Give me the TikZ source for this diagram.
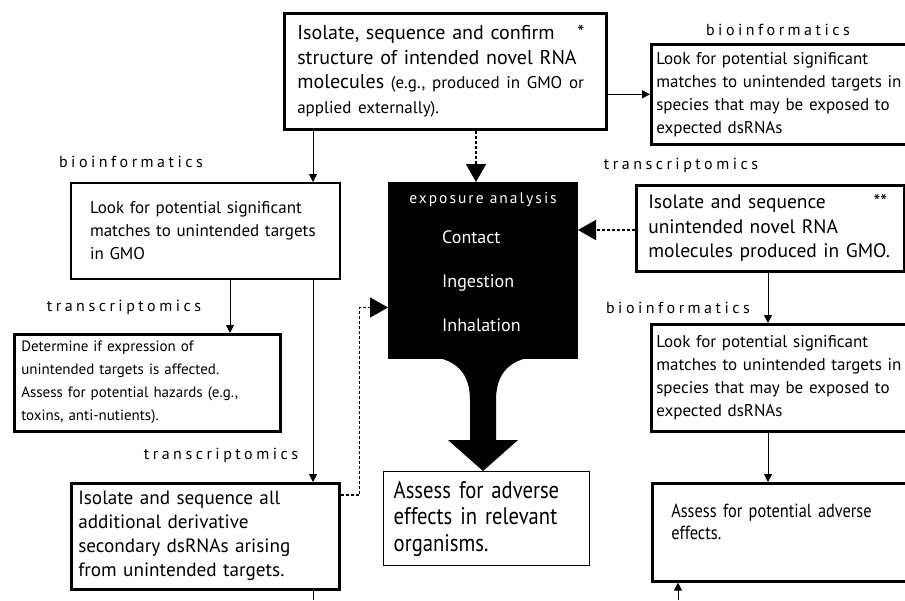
\documentclass[tikz,border=0pt]{standalone}
\usepackage{fontspec}
\setmainfont{PT Sans}
\newfontfamily\spacedfont[LetterSpace=22]{PT Sans}
\newfontfamily\widefont[LetterSpace=13]{PT Sans}
\newfontfamily\condfont[FakeStretch=0.86]{PT Sans}
\usetikzlibrary{arrows.meta,calc,positioning}

\tikzset{
  box/.style={draw, line width=2.6pt, anchor=north west, align=left,
    inner ysep=0pt, font=\fontsize{17}{23}\selectfont},
  thinbox/.style={box, line width=1.4pt},
  tag/.style={font=\spacedfont\fontsize{16}{18}\selectfont},
  conn/.style={line width=1pt, -{Triangle[width=8pt,length=8pt]}},
  dsh/.style={line width=1.6pt, dash pattern=on 3pt off 2pt,
    -{Triangle[width=20pt,length=18pt]}},
}

\begin{document}
\begin{tikzpicture}[x=1pt, y=-1pt]
  \useasboundingbox (0,0) rectangle (905,600);
  \clip (0,0) rectangle (905,600);

  % top row
  \node[box, minimum width=322pt, minimum height=116pt, text width=296pt,
    inner xsep=13pt, font=\fontsize{20}{24.5}\selectfont] (top) at (283,12)
    {Isolate, sequence and confirm\hfill*\rule{9pt}{0pt}\\
     structure of intended novel RNA\\
     molecules {\fontsize{17}{24.5}\selectfont (e.g., produced in GMO or}\\
     {\fontsize{17}{24.5}\selectfont applied externally).}};
  \node[tag] (bioR) at (778,30) {bioinformatics};
  \node[box, minimum width=262pt, minimum height=100pt, text width=252pt,
    inner xsep=5pt] (topR) at (650,43)
    {Look for potential significant\\
     matches to unintended targets in\\
     species that may be exposed to\\
     expected dsRNAs};

  % left column
  \node[tag] (bioL) at (131,162) {bioinformatics};
  \node[box, minimum width=269pt, minimum height=96pt, text width=245pt,
    inner xsep=12pt, line width=2pt] (lookL) at (70,182)
    {\hspace*{7pt}Look for potential significant\\
     \hspace*{7pt}matches to unintended targets\\
     \hspace*{7pt}in GMO};
  \node[tag] (transL) at (124,307) {transcriptomics};
  \node[box, minimum width=266pt, minimum height=97pt, text width=252pt,
    inner xsep=7pt, font=\fontsize{15}{23}\selectfont] (detL) at (13,333)
    {Determine if expression of\\
     unintended targets is affected.\\
     Assess for potential hazards (e.g.,\\
     toxins, anti-nutients).};
  \node[tag] (transL2) at (221,455) {transcriptomics};
  \node[box, minimum width=268pt, minimum height=106pt, text width=254pt,
    inner xsep=7pt, font=\fontsize{19.2}{24}\selectfont] (seqL) at (70,482)
    {Isolate and sequence all\\
     additional derivative\\
     secondary dsRNAs arising\\
     from unintended targets.};

  % centre
  \node[draw, fill, line width=1pt, anchor=north west, minimum width=189pt,
    minimum height=176pt, inner sep=0pt] (expo) at (388,182) {};
  \node[white, font=\widefont\fontsize{15.5}{17}\selectfont] (expoT)
    at ([yshift=-18pt]expo.north) {exposure analysis};
  \node[white, anchor=west, align=left, inner sep=0pt,
    font=\fontsize{18}{44}\selectfont] (expoL) at ([xshift=54pt,yshift=-11pt]expo.west)
    {Contact\\Ingestion\\Inhalation};
  \fill (420,356) .. controls (458,356) and (470,375) .. (470,400)
    -- (470,440) -- (448,440) -- (483,471) -- (518,440) -- (496,440)
    -- (496,400) .. controls (496,375) and (508,356) .. (546,356) -- cycle;
  \node[thinbox, minimum width=205pt, minimum height=94pt, text width=186pt,
    inner xsep=10pt, font=\condfont\fontsize{24}{26.5}\selectfont] (adv) at (383,471)
    {Assess for adverse\\
     effects in relevant\\
     organisms.};

  % right column
  \node[tag] (transR) at (681,165) {transcriptomics};
  \node[box, minimum width=268pt, minimum height=86pt, text width=254pt,
    inner xsep=7pt, font=\fontsize{19.5}{24.5}\selectfont] (midR) at (635,184)
    {\hspace*{5pt}Isolate and sequence\hfill**\rule{10pt}{0pt}\\
     \hspace*{5pt}unintended novel RNA\\
     \hspace*{5pt}molecules produced in GMO.};
  \node[tag] (bioR2) at (678,308) {bioinformatics};
  \node[box, minimum width=262pt, minimum height=107pt, text width=252pt,
    inner xsep=5pt] (lowR) at (650,323)
    {Look for potential significant\\
     matches to unintended targets in\\
     species that may be exposed to\\
     expected dsRNAs};
  \node[box, minimum width=262pt, minimum height=98pt, text width=224pt,
    inner xsep=19pt, font=\condfont\fontsize{19}{22}\selectfont] (botR) at (651,482)
    {Assess for potential adverse\\
     effects.\\ ~};

  % connectors
  \coordinate (colL) at (313,0);
  \coordinate (colD) at (230,0);
  \coordinate (colC) at (476,0);
  \coordinate (colR) at (768,0);
  \coordinate (inR) at (678,600);
  \coordinate (outL) at (313,600);
  \draw[conn] (colL |- top.south) -- (colL |- lookL.north);
  \draw[conn] (colL |- lookL.south) -- (colL |- seqL.north);
  \draw[line width=1pt] (colL |- seqL.south) -- (outL);
  \draw[conn] (colD |- lookL.south) -- (colD |- detL.north);
  \draw[conn] (top.east |- topR.west) -- (topR.west);
  \draw[dsh] (colC |- top.south) -- (colC |- expo.north);
  \draw[dsh] (midR.west |- 0,230) -- (expo.east |- 0,230);
  \draw[dsh] ([yshift=-13pt]seqL.north east) -- ++(19,0)
    |- ([yshift=-37pt]expo.west);
  \draw[conn] (colR |- midR.south) -- (colR |- lowR.north);
  \draw[conn] (colR |- lowR.south) -- (colR |- botR.north);
  \draw[conn] (inR) -- (inR |- botR.south);
\end{tikzpicture}
\end{document}
